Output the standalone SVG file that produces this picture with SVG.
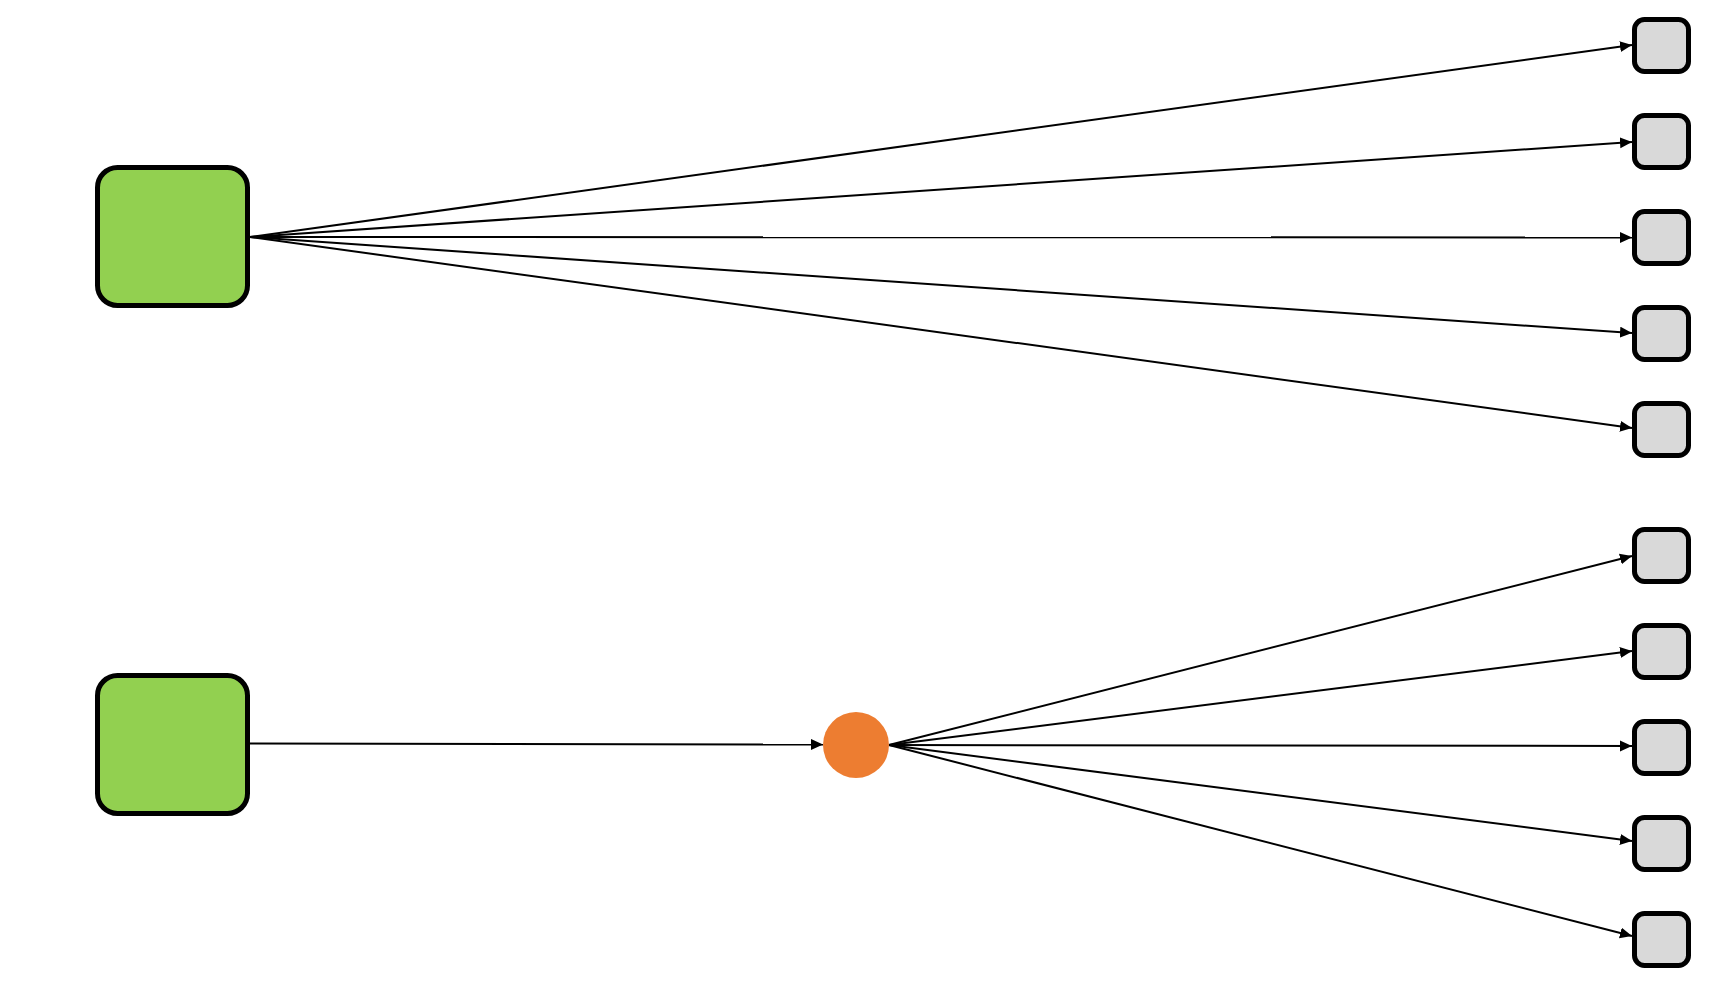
<svg xmlns="http://www.w3.org/2000/svg" width="1728" height="990" viewBox="0 0 1728 990">
<style>
.src{fill:#92D050;stroke:#000;stroke-width:5}
.leaf{fill:#D9D9D9;stroke:#000;stroke-width:5}
.hub{fill:#ED7D31}
.edge{fill:none;stroke:#000;stroke-width:2;marker-end:url(#arr)}
</style>
<defs>
<marker id="arr" markerUnits="userSpaceOnUse" markerWidth="13" markerHeight="12" refX="12" refY="5.5" orient="auto">
<path d="M0,0 L12,5.5 L0,11 Z" fill="#000"/>
</marker>
</defs>
<rect width="1728" height="990" fill="#fff"/>
<g id="connectors">
<line class="edge" x1="250" y1="237" x2="1632" y2="45"/>
<line class="edge" x1="250" y1="237" x2="1632" y2="142"/>
<line class="edge" x1="250" y1="237" x2="1632" y2="237.5"/>
<line class="edge" x1="250" y1="237" x2="1632" y2="333"/>
<line class="edge" x1="250" y1="237" x2="1632" y2="428"/>
<line class="edge" x1="250" y1="743.5" x2="823" y2="744.5"/>
<line class="edge" x1="889" y1="745" x2="1632" y2="556"/>
<line class="edge" x1="889" y1="745" x2="1632" y2="651"/>
<line class="edge" x1="889" y1="745" x2="1632" y2="746"/>
<line class="edge" x1="889" y1="745" x2="1632" y2="841"/>
<line class="edge" x1="889" y1="745" x2="1632" y2="936"/>
</g>
<g id="source1"><rect class="src" x="97.5" y="167.5" width="150" height="138" rx="20"/></g>
<g id="source2"><rect class="src" x="97.5" y="675.5" width="150" height="138" rx="20"/></g>
<g id="hub"><circle class="hub" cx="856" cy="745" r="33"/></g>
<g id="leaf1"><rect class="leaf" x="1634.5" y="19.5" width="54" height="52" rx="10"/></g>
<g id="leaf2"><rect class="leaf" x="1634.5" y="115.5" width="54" height="52" rx="10"/></g>
<g id="leaf3"><rect class="leaf" x="1634.5" y="211.5" width="54" height="52" rx="10"/></g>
<g id="leaf4"><rect class="leaf" x="1634.5" y="307.5" width="54" height="52" rx="10"/></g>
<g id="leaf5"><rect class="leaf" x="1634.5" y="403.5" width="54" height="52" rx="10"/></g>
<g id="leaf6"><rect class="leaf" x="1634.5" y="529.5" width="54" height="52" rx="10"/></g>
<g id="leaf7"><rect class="leaf" x="1634.5" y="625.5" width="54" height="52" rx="10"/></g>
<g id="leaf8"><rect class="leaf" x="1634.5" y="721.5" width="54" height="52" rx="10"/></g>
<g id="leaf9"><rect class="leaf" x="1634.5" y="817.5" width="54" height="52" rx="10"/></g>
<g id="leaf10"><rect class="leaf" x="1634.5" y="913.5" width="54" height="52" rx="10"/></g>
</svg>
